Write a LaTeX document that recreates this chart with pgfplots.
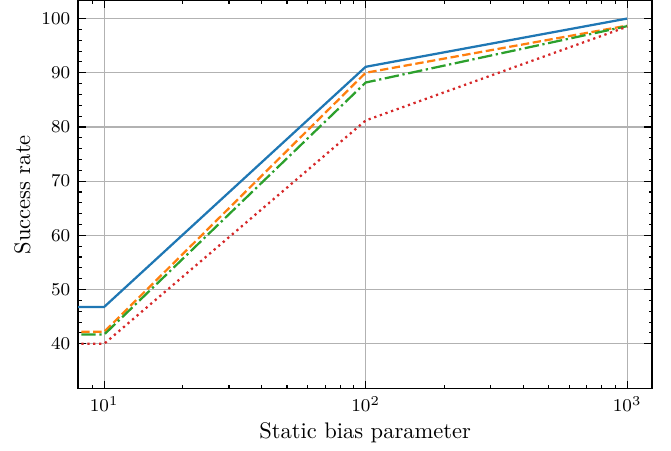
\documentclass[border=0pt]{standalone}
\usepackage{pgfplots}
\pgfplotsset{compat=1.18}
\definecolor{tabblue}{HTML}{1F77B4}
\definecolor{taborange}{HTML}{FF7F0E}
\definecolor{tabgreen}{HTML}{2CA02C}
\definecolor{tabred}{HTML}{D62728}
\begin{document}
\begin{tikzpicture}
\begin{axis}[
  scale only axis,
  width=255pt, height=172.4pt,
  xmode=log, log basis x=10,
  xmin=7.95, xmax=1246,
  ymin=31.7, ymax=103.3,
  ytick={40,50,60,70,80,90,100},
  minor y tick num=4,
  tick align=inside,
  major tick length=3.4pt,
  minor tick length=1.6pt,
  every tick/.style={black, line width=0.5pt},
  axis line style={line width=0.6pt},
  grid=major,
  major grid style={line width=0.5pt, color=black!30},
  tick label style={font=\fontsize{8.3}{10}\selectfont},
  xlabel={Static bias parameter},
  ylabel={Success rate},
  label style={font=\fontsize{10}{12}\selectfont},
  xlabel style={yshift=2pt},
  ylabel style={yshift=-2pt},
]
\addplot[tabblue, line width=1pt] coordinates {(1,46.8) (10,46.8) (100,91.1) (1000,100.0)};
\addplot[taborange, line width=1pt, dash pattern=on 3.7pt off 1.6pt] coordinates {(1,42.2) (10,42.2) (100,90.0) (1000,98.7)};
\addplot[tabgreen, line width=1pt, dash pattern=on 6.4pt off 1.6pt on 1pt off 1.6pt] coordinates {(1,41.7) (10,41.7) (100,88.2) (1000,98.6)};
\addplot[tabred, line width=1pt, dash pattern=on 1pt off 1.65pt] coordinates {(1,40.0) (10,40.0) (100,81.2) (1000,98.5)};
\end{axis}
\path (current axis.south west) ++(-34.7pt,-26.3pt) coordinate (bl);
\path (current axis.north east) ++(8.4pt,0pt) coordinate (tr);
\path (bl) (tr);
\end{tikzpicture}
\end{document}
